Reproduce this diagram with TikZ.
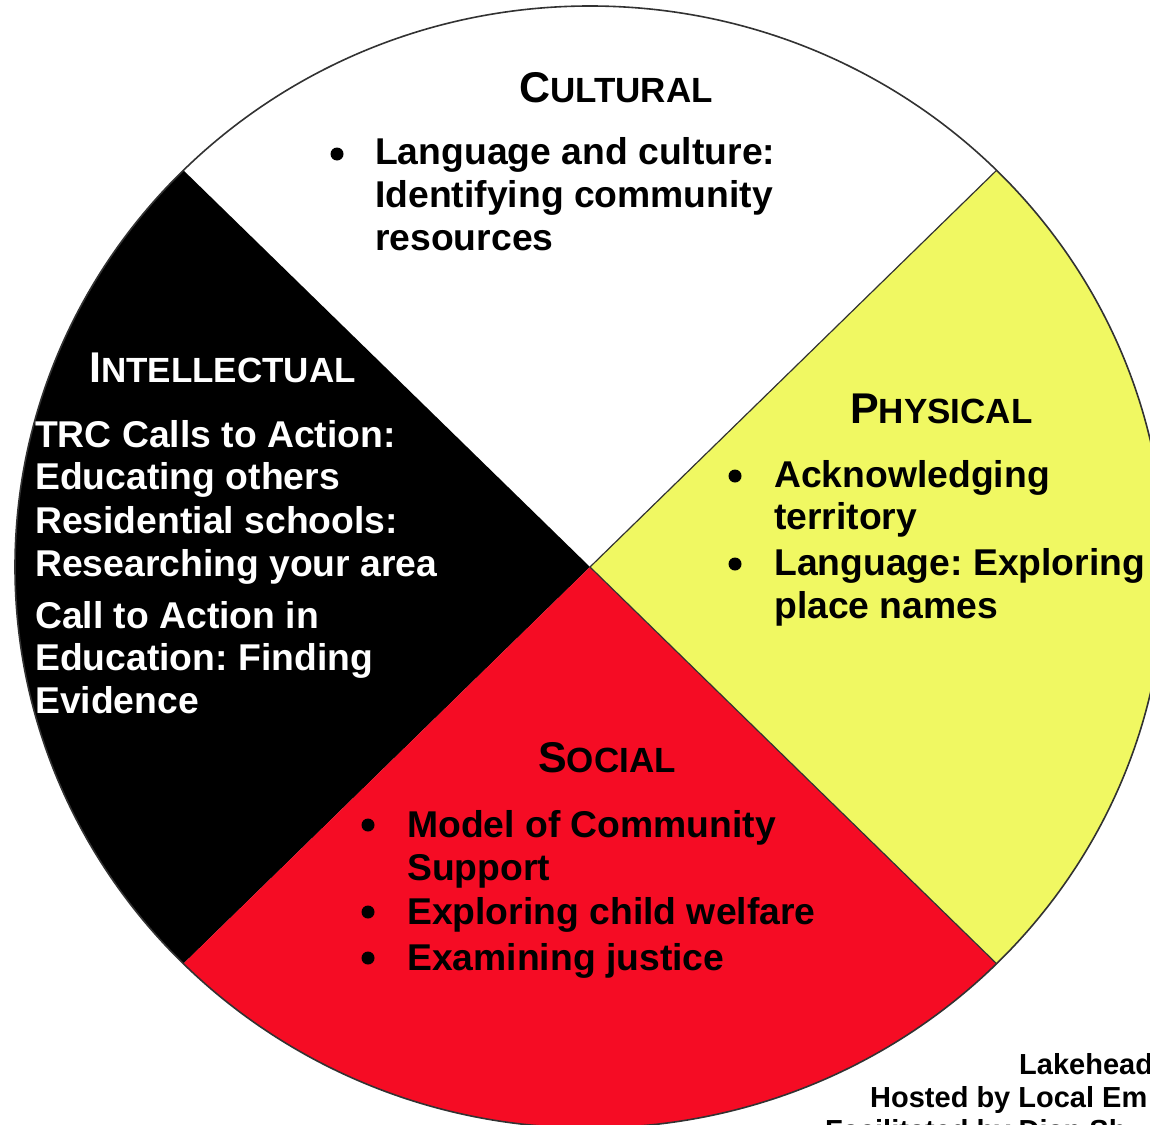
\documentclass[tikz,border=0pt]{standalone}
\usepackage{fontspec}
\setmainfont{Liberation Sans}
\frenchspacing
\definecolor{wheelyellow}{RGB}{240,248,98}
\definecolor{wheelred}{RGB}{245,12,36}
\definecolor{rimgray}{RGB}{50,50,50}
% heading set in small capitals: first letter large, rest smaller
\newcommand\wheelhead[2]{{\fontsize{43}{43}\selectfont #1}{\fontsize{35}{35}\selectfont #2}}
\begin{document}
\begin{tikzpicture}[x=1pt,y=1pt,
  body/.style={anchor=base west, inner sep=0pt, font=\bfseries\fontsize{37.3}{43}\selectfont},
  head/.style={anchor=base west, inner sep=0pt, font=\bfseries},
  foot/.style={anchor=base west, inner sep=0pt, font=\bfseries\fontsize{29}{34}\selectfont},
  bullet/.style={fill=black},
  rim/.style={draw=rimgray, line width=1.6pt},
  spoke/.style={draw=rimgray, line width=1.2pt}]
\useasboundingbox (0,0) rectangle (1150,-1124);
\begin{scope}
\clip (0,0) rectangle (1150,-1124);
\coordinate (c) at (590,-567);
% the four quadrants of the wheel
\fill[white] (c) -- ++(45:575 and 561) arc[start angle=45, end angle=135, x radius=575, y radius=561] -- cycle;
\fill[black] (c) -- ++(135:575 and 561) arc[start angle=135, end angle=225, x radius=575, y radius=561] -- cycle;
\fill[wheelred] (c) -- ++(225:575 and 561) arc[start angle=225, end angle=315, x radius=575, y radius=561] -- cycle;
\fill[wheelyellow] (c) -- ++(-45:575 and 561) arc[start angle=-45, end angle=45, x radius=575, y radius=561] -- cycle;
% outline of the wheel and the edges of the yellow quadrant
\draw[rim] (c) ellipse [x radius=575, y radius=561];
\draw[spoke] (c) ++(45:575 and 561) -- (c) -- ++(-45:575 and 561);

% Cultural
\node[head] (cultH) at (519,-102) {\wheelhead{C}{ULTURAL}};
\fill[bullet] (337,-154) circle (6.5);
\node[body] (cult1) at (375,-164) {Language and culture:};
\node[body] (cult2) at (375,-207) {Identifying community};
\node[body] (cult3) at (375,-250) {resources};

% Intellectual
\node[head, text=white] (intH) at (89,-382) {\wheelhead{I}{NTELLECTUAL}};
\node[body, text=white] (int1) at (35,-447) {TRC Calls to Action:};
\node[body, text=white] (int2) at (35,-489) {Educating others};
\node[body, text=white] (int3) at (35,-533) {Residential schools:};
\node[body, text=white] (int4) at (35,-576) {Researching your area};
\node[body, text=white] (int5) at (35,-628) {Call to Action in};
\node[body, text=white] (int6) at (35,-670) {Education: Finding};
\node[body, text=white] (int7) at (35,-713) {Evidence};

% Physical
\node[head] (phyH) at (850,-423) {\wheelhead{P}{HYSICAL}};
\fill[bullet] (735,-476) circle (6.5);
\fill[bullet] (735,-564) circle (6.5);
\node[body] (phy1) at (774,-487) {Acknowledging};
\node[body] (phy2) at (774,-529) {territory};
\node[body] (phy3) at (774,-575) {Language: Exploring};
\node[body] (phy4) at (774,-618) {place names};

% Social
\node[head] (socH) at (538,-772) {\wheelhead{S}{OCIAL}};
\fill[bullet] (368,-825) circle (6.5);
\fill[bullet] (368,-912) circle (6.5);
\fill[bullet] (368,-958) circle (6.5);
\node[body] (soc1) at (407,-837) {Model of Community};
\node[body] (soc2) at (407,-880) {Support};
\node[body] (soc3) at (407,-924) {Exploring child welfare};
\node[body] (soc4) at (407,-970) {Examining justice};

% credits in the lower right corner
\node[foot] (cred1) at (1019,-1074) {Lakehead};
\node[foot] (cred2) at (870,-1107) {Hosted by Local Em};
\node[foot] (cred3) at (825,-1140) {Facilitated by Dian Sh};
\end{scope}
\end{tikzpicture}
\end{document}
